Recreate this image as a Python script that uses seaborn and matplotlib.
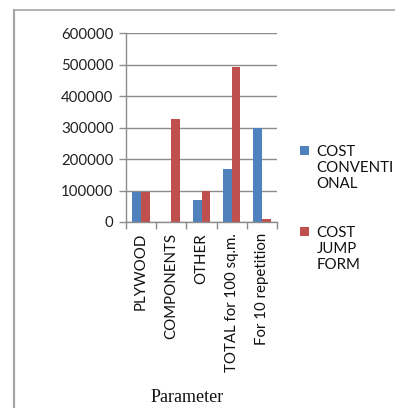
import matplotlib
matplotlib.use("Agg")
import matplotlib.pyplot as plt
import matplotlib.lines as mlines
import matplotlib.patches as mpatches
from matplotlib.legend_handler import HandlerPatch
import seaborn as sns
import pandas as pd

categories = ["PLYWOOD", "COMPONENTS", "OTHER", "TOTAL for 100 sq.m.", "For 10 repetition"]
cost_conventional = [96000, 0, 71000, 168000, 300000]
cost_jump_form = [96000, 326000, 99000, 492000, 8000]
series_names = ["COST\nCONVENTI\nONAL", "COST\nJUMP\nFORM"]
yticks = [0, 100000, 200000, 300000, 400000, 500000, 600000]

colors = ["#4F81BD", "#C0504D"]

df = pd.DataFrame({
    "Parameter": categories * 2,
    "Cost": cost_conventional + cost_jump_form,
    "Series": [series_names[0]] * len(categories) + [series_names[1]] * len(categories),
})

sns.set_style("white")
plt.rcParams["font.family"] = ["Lato", "DejaVu Sans"]

W, H = 395, 408
FS = 10.8
LINESPACING = 1.2
fig = plt.figure(figsize=(W / 100, H / 100), dpi=100)
ax = fig.add_axes([126 / W, 1 - 222 / H, (277 - 126) / W, (222 - 33.3) / H])

sns.barplot(data=df, x="Parameter", y="Cost", hue="Series", order=categories,
            hue_order=series_names, palette=colors, width=0.57, gap=0,
            saturation=1, linewidth=0, ax=ax, legend=True)

ax.set_xlim(-0.5, len(categories) - 0.5)
ax.set_ylim(0, 600000)
ax.set_yticks(yticks)
ax.set_yticklabels([str(v) for v in yticks], fontsize=FS, color="#222222")
ax.yaxis.grid(True, color="#8c8c8c", linewidth=1)
ax.set_axisbelow(True)

# category labels at bar centres, tick marks at category boundaries
ax.set_xticks(range(len(categories)))
ax.set_xticklabels(categories, rotation=90, fontsize=FS, color="#111111")
ax.tick_params(axis="x", which="major", length=0, pad=8)
ax.set_xticks([i - 0.5 for i in range(len(categories) + 1)], minor=True)
ax.tick_params(axis="x", which="minor", length=5, width=1, color="#8c8c8c", direction="out", bottom=True)
ax.tick_params(axis="y", length=5, width=1, color="#8c8c8c", direction="out", left=True, pad=4)

for side in ["top", "right"]:
    ax.spines[side].set_visible(False)
for side in ["left", "bottom"]:
    ax.spines[side].set_color("#8c8c8c")
    ax.spines[side].set_linewidth(1)

ax.set_ylabel("")
ax.set_xlabel("")
fig.text(187 / W, 1 - 397 / H, "Parameter", ha="center", va="center",
         fontsize=13, family="Liberation Serif", color="#111111")


class TopLineSquare(HandlerPatch):
    """Square legend key aligned with the first line of a multi-line label."""

    def __init__(self, shift, **kw):
        super().__init__(**kw)
        self.shift = shift

    def create_artists(self, legend, orig_handle, xdescent, ydescent,
                       width, height, fontsize, trans):
        side = min(width, height)
        p = mpatches.Rectangle((-xdescent, -ydescent + self.shift), side, side,
                               facecolor=orig_handle.get_facecolor(),
                               edgecolor="none", transform=trans)
        return [p]


handles, labels = ax.get_legend_handles_labels()
shift = FS * LINESPACING * 1.0
leg = ax.legend(handles, labels, loc="upper left", bbox_to_anchor=(300 / W, 1 - 145 / H),
                bbox_transform=fig.transFigure, frameon=False, fontsize=FS,
                handlelength=0.6, handleheight=0.6, handletextpad=0.5,
                labelspacing=2.3, borderaxespad=0, borderpad=0,
                handler_map={h: TopLineSquare(shift) for h in handles})
for t in leg.get_texts():
    t.set_linespacing(LINESPACING)
    t.set_color("#111111")

# outer frame lines
fig.add_artist(mlines.Line2D([14 / W, 1], [1 - 10 / H, 1 - 10 / H], color="#a6a6a6", linewidth=1.2,
                             transform=fig.transFigure))
fig.add_artist(mlines.Line2D([14 / W, 14 / W], [0, 1 - 10 / H], color="#a6a6a6", linewidth=1.6,
                             transform=fig.transFigure))

fig.savefig("out.png", dpi=100)
